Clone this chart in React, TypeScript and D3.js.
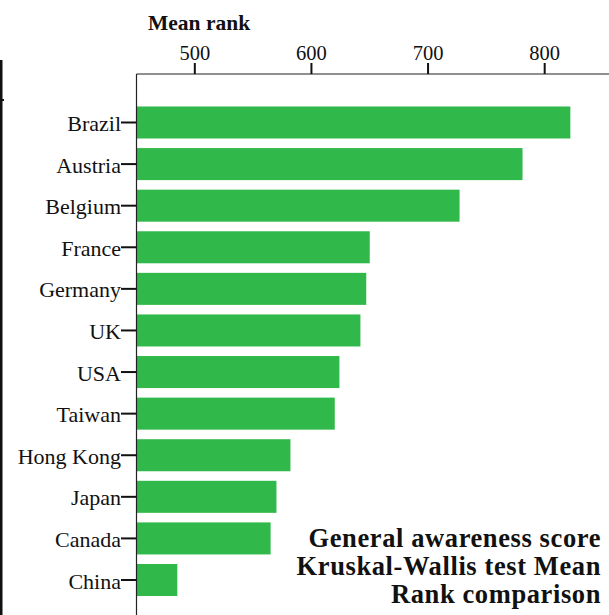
import React from "react";
import * as d3 from "d3";

const countries = ["Brazil", "Austria", "Belgium", "France", "Germany", "UK", "USA", "Taiwan", "Hong Kong", "Japan", "Canada", "China"];
const meanRanks = [822, 781, 727, 650, 647, 642, 624, 620, 582, 570, 565, 485];
const tickValues = [500, 600, 700, 800];
const axisTitle = "Mean rank";
const titleLines = ["General awareness score", "Kruskal-Wallis test Mean", "Rank comparison"];

const W = 609;
const H = 615;
const FONT = "'Liberation Serif', 'Times New Roman', serif";

export default function App() {
  const x = d3.scaleLinear().domain([450, 850]).range([136.5, 603]);
  const y = d3
    .scaleBand<string>()
    .domain(countries)
    .range([101.7, 600.8])
    .paddingInner(0.23)
    .paddingOuter(0.115);
  const left = x(450);
  const axisY = 74;

  return (
    <svg
      width={W}
      height={H}
      style={{ position: "absolute", left: 0, top: 0, background: "#fff" }}
      fontFamily={FONT}
    >
      <rect x={0} y={0} width={W} height={H} fill="#fff" />
      {/* cropped frame on left edge */}
      <rect x={0} y={60} width={2.5} height={H - 60} fill="#111" />
      <rect x={0} y={99} width={4} height={2} fill="#111" />

      {/* bars */}
      {countries.map((c, i) => (
        <rect
          key={c}
          x={left}
          y={y(c)!}
          width={x(meanRanks[i]) - left}
          height={y.bandwidth()}
          fill="#30b94a"
        />
      ))}

      {/* axes lines */}
      <line x1={left} x2={W} y1={axisY} y2={axisY} stroke="#222" strokeWidth={1.2} />
      <line x1={left} x2={left} y1={axisY} y2={H} stroke="#222" strokeWidth={1.2} />

      {/* top ticks */}
      {tickValues.map((t) => (
        <g key={t}>
          <line x1={x(t)} x2={x(t)} y1={axisY - 11} y2={axisY} stroke="#111" strokeWidth={2} />
          <text x={x(t)} y={axisY - 14} textAnchor="middle" fontSize={20.5} fill="#111">
            {t}
          </text>
        </g>
      ))}
      <text x={148} y={30} fontSize={21.5} fontWeight="bold" fill="#111">
        {axisTitle}
      </text>

      {/* category ticks and labels */}
      {countries.map((c) => {
        const cy = y(c)! + y.bandwidth() / 2;
        return (
          <g key={c}>
            <line x1={121} x2={left} y1={cy} y2={cy} stroke="#111" strokeWidth={2} />
            <text x={121} y={cy + 8.5} textAnchor="end" fontSize={22} fill="#111">
              {c}
            </text>
          </g>
        );
      })}

      {/* title block */}
      {titleLines.map((l, i) => (
        <text
          key={l}
          x={601}
          y={547 + i * 27.8}
          textAnchor="end"
          fontSize={26.5}
          fontWeight="bold"
          letterSpacing={0.6}
          fill="#111"
        >
          {l}
        </text>
      ))}
    </svg>
  );
}
